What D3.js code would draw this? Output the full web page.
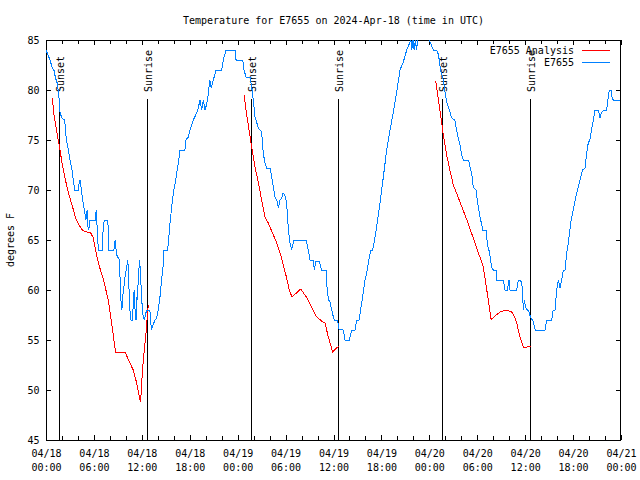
<!DOCTYPE html>
<html><head><meta charset="utf-8">
<script src="https://cdn.jsdelivr.net/npm/d3@7"></script>
<style>
body{margin:0;background:#fff}
text{font-family:"DejaVu Sans Mono",monospace;font-size:10px;fill:#000}
</style>
</head><body>
<svg id="chart" width="640" height="480"></svg>
<script>
const chartTitle = "Temperature for E7655 on 2024-Apr-18 (time in UTC)";
const yAxisLabel = "degrees F";
const seriesNames = ["E7655 Analysis", "E7655"];
const seriesColors = ["#ff0000", "#0080ff"];
const startUTC = Date.UTC(2024, 3, 18, 0, 0);
const spanHours = 72;
const yTicks = [45, 50, 55, 60, 65, 70, 75, 80, 85];
const xMajorTickHours = [0, 6, 12, 18, 24, 30, 36, 42, 48, 54, 60, 66, 72];

// observed series (hours since 2024-04-18 00:00 UTC, deg F)
const obsHours = [0.0,0.25,0.5,0.75,0.93,1.05,1.15,1.4,1.58,1.65,1.7,1.85,2.0,2.3,2.4,2.55,2.8,3.0,3.2,3.42,3.6,4.05,4.2,4.3,4.45,4.65,4.85,5.0,5.15,5.25,5.35,5.5,6.15,6.3,6.42,6.55,7.05,7.15,7.3,7.75,7.85,8.5,8.65,8.85,9.2,9.35,9.5,9.6,9.9,10.1,10.25,10.35,10.5,10.64,10.85,10.95,11.06,11.15,11.27,11.35,11.45,11.56,11.73,11.85,11.97,12.1,12.31,12.45,12.6,13.0,13.2,13.4,13.65,13.85,14.06,14.27,14.48,14.7,14.78,15.19,15.3,15.5,15.74,15.95,16.24,16.57,16.78,17.4,17.5,17.82,18.03,18.45,18.86,19.07,19.28,19.49,19.7,19.9,20.1,20.3,20.5,20.7,20.95,21.3,22.0,22.2,22.54,23.67,23.8,24.63,24.8,25.04,25.54,25.75,25.96,26.17,26.6,26.8,27.0,27.2,27.42,27.63,28.05,28.26,28.47,28.68,28.9,29.1,29.3,29.5,29.7,29.9,30.05,30.2,30.35,30.55,30.76,31.05,32.56,32.85,33.06,33.47,33.6,33.8,34.2,34.52,35.06,35.23,35.4,35.56,35.98,36.1,36.53,36.65,37.23,37.44,37.98,38.28,38.7,38.9,39.2,39.53,39.73,39.95,40.16,40.36,40.66,40.9,41.07,41.4,41.82,42.24,42.66,43.08,43.5,43.9,44.33,44.74,45.17,45.58,45.7,45.8,45.95,46.1,46.25,46.4,46.55,46.7,46.8,47.9,48.0,48.3,48.5,48.9,49.05,49.25,49.4,49.75,49.96,50.17,50.5,50.8,51.2,51.4,51.63,51.84,52.05,52.25,52.9,53.1,53.3,53.5,53.85,54.0,54.35,54.7,55.1,55.26,55.4,55.5,55.8,56.0,56.35,56.4,57.27,57.48,57.77,57.98,58.1,58.94,59.15,59.44,59.65,59.77,59.9,60.07,60.3,60.48,60.7,60.94,61.1,61.27,62.48,62.7,63.33,63.5,63.74,63.95,64.15,64.36,64.57,64.78,64.99,65.2,65.4,65.6,65.75,66.03,66.45,66.86,67.2,67.5,67.7,67.9,68.1,68.3,68.55,68.75,69.16,69.37,69.58,70.0,70.2,70.4,70.54,70.75,70.9,71.04,71.87];
const obsTemps = [84,83.5,83,82.3,82,82,81.3,80.7,79.7,79,78,77.5,77.2,77,76.5,75,74,73,72.3,71,70,70,71,71,69.8,68.7,67.8,67,68,66.3,66,67,67,68,66,64,64,66,67,67,64,64,65,63.5,63,59.3,58,59.3,61.3,62.3,63,61,58,57,57,59.3,60,58,57,59.3,59,61.3,63,61.3,59.3,57.7,57,57.5,58,58,56,56.5,57,57.2,58,59.3,61,62.7,64,64,64.5,66.5,68.3,69.7,71,72.7,74,74,75,75.3,76,77,77.7,78.2,79,78,79,78,78.5,79.5,81,80.2,81,82,82,83,84,84,83,83,82,81.3,81.3,80.3,79,77.3,76.2,76,75.8,73.7,72.7,72.2,72.2,71.3,70.3,69.3,69,68.2,69,69.2,69.7,69.5,69,68,66,64.7,64,65,65,64,63,63,62,62.9,62.9,62,62,59.8,59,58.8,57.3,57,57,56.1,56,55,55,56,56,57,57,58.7,59.8,61,61.7,62.7,64,64,64.7,66.3,68.7,71.3,74,76,77.8,79.7,82,82.8,84,84.8,85,84,85,84,85,84,85,85.5,86,86,85,84.4,84,84,83.8,83,82,81,79.8,78.8,78,77.2,77,76,75.2,74.5,73.5,73,73,72.3,71.7,70.3,70,69,67.3,66,66,64.7,64,64,62.3,62,62,61,61,60,60,61,60,60,61,61,60.2,58,59,58.2,58,57.8,57.2,57,56.5,56,56,57,57,58,58,60,61,60.2,61,62,62,63.7,64.7,66,67,68,69.7,71,72,72.2,73.7,74.7,75,76,77,78,78,77.2,77.8,78,78,79.3,80,80,79.2,79,79];

// analysis series (null separates nights)
const anaHours = [0.79,1.0,1.42,1.71,2.05,2.46,2.88,3.3,3.7,4.13,4.55,4.76,5.6,5.93,6.22,6.63,7.2,7.8,8.22,8.64,8.75,9.9,10.5,10.93,11.35,11.77,11.85,11.98,12.18,12.48,12.73,12.81,
  12.9,
  24.8,25.1,25.46,25.75,26.17,26.6,27.0,27.42,27.84,28.47,28.9,29.5,30.1,30.47,30.8,31.9,32.6,33.3,33.9,34.5,34.94,35.35,35.9,36.4,36.73,
  36.8,
  48.8,49.1,49.55,49.75,50.17,50.6,51.0,51.4,51.84,52.7,53.5,54.1,54.7,54.97,55.4,55.75,56.2,56.85,57.7,58.3,58.7,58.94,59.35,59.77,60.2,60.7];
const anaTemps = [79.2,77.5,75.5,74.2,72.5,70.9,69.5,68.4,67.2,66.5,66.0,65.9,65.7,65.2,63.9,62.5,61.0,59.0,56.7,54.2,53.8,53.8,52.7,52,50.7,49,48.8,50.7,53,55.3,57.8,58.5,
  null,
  79.5,77.7,75.8,74.3,72.3,70.7,69,67.3,66.7,65.5,64.7,63.2,61.3,60,59.3,60.1,59.3,58.2,57.3,56.9,56.7,55.3,53.8,54.2,54.4,
  null,
  80.9,79.2,76.7,75.5,73.5,71.9,70.5,69.7,68.8,67.0,65.2,63.8,62.5,61.2,58.9,57.0,57.4,57.8,58.0,57.8,57.3,56.7,55.3,54.3,54.3,54.4];

const sunEventHours = [1.68, 12.63, 25.7, 36.6, 49.63, 60.6];
const sunEventLabels = ["Sunset", "Sunrise", "Sunset", "Sunrise", "Sunset", "Sunrise"];

const W = 640, H = 480;
const m = {left: 46, right: 19, top: 40, bottom: 40};
const hr = h => new Date(startUTC + h * 3600e3);

const svg = d3.select("#chart");
const x = d3.scaleUtc().domain([hr(0), hr(spanHours)]).range([m.left, W - m.right]);
const y = d3.scaleLinear().domain([45, 85]).range([H - m.bottom, m.top]);

svg.append("defs").append("clipPath").attr("id", "clip")
  .append("rect").attr("x", m.left).attr("y", m.top)
  .attr("width", W - m.left - m.right).attr("height", H - m.top - m.bottom);

// title
svg.append("text").attr("x", (m.left + W - m.right) / 2).attr("y", 23.5)
  .attr("text-anchor", "middle").text(chartTitle);

// y label
svg.append("text").attr("transform", `translate(13.5,${(m.top + H - m.bottom) / 2}) rotate(-90)`)
  .attr("text-anchor", "middle").text(yAxisLabel);

const minorTicks = d3.range(0, spanHours + 1, 2).map(hr);
const majorTicks = xMajorTickHours.map(hr);

function styleAxis(g) {
  g.select(".domain").remove();
  g.selectAll("line").attr("stroke", "#000").attr("shape-rendering", "crispEdges");
}

svg.append("g").attr("transform", `translate(0,${H - m.bottom})`)
  .call(d3.axisBottom(x).tickValues(minorTicks).tickSize(-4).tickFormat(""))
  .call(styleAxis);
svg.append("g").attr("transform", `translate(0,${m.top})`)
  .call(d3.axisTop(x).tickValues(minorTicks).tickSize(-4).tickFormat(""))
  .call(styleAxis);
svg.append("g").attr("transform", `translate(0,${m.top})`)
  .call(d3.axisTop(x).tickValues(majorTicks).tickSize(-5).tickFormat(""))
  .call(styleAxis);

const fmtD = d3.utcFormat("%m/%d"), fmtT = d3.utcFormat("%H:%M");
const xb = svg.append("g").attr("transform", `translate(0,${H - m.bottom})`)
  .call(d3.axisBottom(x).tickValues(majorTicks).tickSize(-5).tickFormat(""))
  .call(styleAxis);
xb.selectAll(".tick text").remove();
xb.selectAll(".tick").append("text")
  .attr("text-anchor", "middle").attr("fill", "#000")
  .each(function(d) {
    const t = d3.select(this);
    t.append("tspan").attr("x", 0).attr("y", 16.5).text(fmtD(d));
    t.append("tspan").attr("x", 0).attr("y", 30.5).text(fmtT(d));
  });

const yl = svg.append("g").attr("transform", `translate(${m.left},0)`)
  .call(d3.axisLeft(y).tickValues(yTicks).tickSize(-5).tickPadding(6.5).tickFormat(d3.format("d")))
  .call(styleAxis);
yl.selectAll("text").attr("fill", "#000").style("font-family", '"DejaVu Sans Mono",monospace').style("font-size", "10px");
svg.append("g").attr("transform", `translate(${W - m.right},0)`)
  .call(d3.axisRight(y).tickValues(yTicks).tickSize(-5).tickFormat(""))
  .call(styleAxis);

// border
svg.append("rect").attr("x", m.left + 0.5).attr("y", m.top + 0.5)
  .attr("width", W - m.left - m.right - 1).attr("height", H - m.top - m.bottom)
  .attr("fill", "none").attr("stroke", "#000").attr("shape-rendering", "crispEdges");

// sun events
const sunG = svg.append("g");
sunEventHours.forEach((h, i) => {
  const px = Math.round(x(hr(h))) + 0.5;
  sunG.append("line").attr("x1", px).attr("x2", px).attr("y1", 99).attr("y2", H - m.bottom)
    .attr("stroke", "#000").attr("stroke-width", 1).attr("shape-rendering", "crispEdges");
  sunG.append("text").attr("transform", `translate(${px + 4.5},92) rotate(-90)`)
    .attr("text-anchor", "start").text(sunEventLabels[i]);
});

// series
const plot = svg.append("g").attr("clip-path", "url(#clip)");
const anaData = anaHours.map((h, i) => ({t: hr(h), v: anaTemps[i]}));
const obsData = obsHours.map((h, i) => ({t: hr(h), v: obsTemps[i]}));
const line = d3.line().defined(d => d.v != null).x(d => x(d.t)).y(d => y(d.v));
plot.append("path").datum(anaData).attr("d", line)
  .attr("fill", "none").attr("stroke", seriesColors[0]).attr("stroke-width", 1)
  .attr("shape-rendering", "crispEdges");
plot.append("path").datum(obsData).attr("d", line)
  .attr("fill", "none").attr("stroke", seriesColors[1]).attr("stroke-width", 1)
  .attr("shape-rendering", "crispEdges");

// legend
const legY = [50, 62.5];
seriesNames.forEach((n, i) => {
  svg.append("text").attr("x", 574).attr("y", legY[i] + 3.8).attr("text-anchor", "end").text(n);
  svg.append("line").attr("x1", 582).attr("x2", 610).attr("y1", legY[i]).attr("y2", legY[i])
    .attr("stroke", seriesColors[i]).attr("stroke-width", 1).attr("shape-rendering", "crispEdges");
});
</script>
</body></html>
